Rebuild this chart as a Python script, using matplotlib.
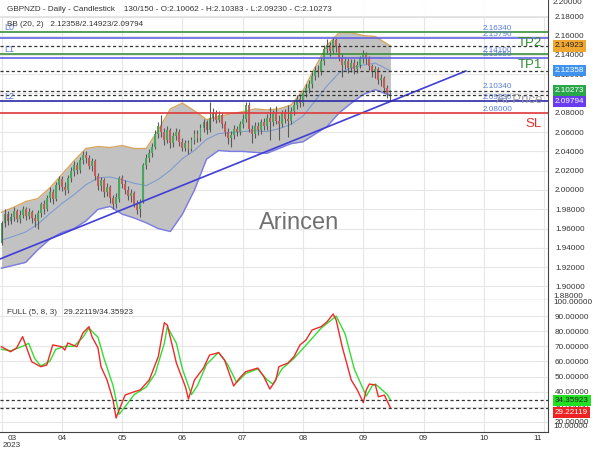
import matplotlib
matplotlib.use('Agg')
import matplotlib.pyplot as plt
import numpy as np

plt.rcParams['font.family'] = ['Liberation Sans', 'DejaVu Sans']

# ---------------- data ----------------
opens = [1.945, 1.966, 1.975, 1.968, 1.972, 1.978, 1.970, 1.974, 1.980, 1.973,
         1.977, 1.971, 1.968, 1.976, 1.985, 1.980, 1.992, 1.998, 1.991, 2.005,
         2.011, 2.003, 2.000, 2.012, 2.020, 2.026, 2.021, 2.031, 2.036, 2.033,
         2.025, 2.030, 2.015, 2.004, 2.010, 1.998, 2.003, 1.992, 1.985, 1.991,
         2.012, 2.006, 2.000, 1.994, 1.997, 1.986, 1.980, 1.989, 2.026, 2.033,
         2.038, 2.045, 2.058, 2.066, 2.060, 2.052, 2.062, 2.049, 2.056, 2.060,
         2.050, 2.044, 2.049, 2.043, 2.052, 2.058, 2.054, 2.064, 2.070, 2.062,
         2.075, 2.080, 2.073, 2.078, 2.068, 2.060, 2.054, 2.057, 2.063, 2.060,
         2.068, 2.074, 2.088, 2.063, 2.058, 2.066, 2.062, 2.070, 2.066, 2.075,
         2.070, 2.079, 2.072, 2.068, 2.080, 2.074, 2.071, 2.082, 2.088, 2.094,
         2.090, 2.100, 2.106, 2.110, 2.118, 2.124, 2.122, 2.134, 2.146, 2.150,
         2.144, 2.155, 2.149, 2.138, 2.130, 2.134, 2.126, 2.132, 2.125, 2.130,
         2.136, 2.140, 2.136, 2.128, 2.122, 2.125, 2.114, 2.116, 2.106, 2.10062]
highs = [1.968, 1.980, 1.978, 1.976, 1.982, 1.980, 1.979, 1.983, 1.982, 1.981,
         1.979, 1.975, 1.979, 1.988, 1.990, 1.995, 2.003, 2.001, 2.008, 2.014,
         2.015, 2.008, 2.016, 2.024, 2.030, 2.029, 2.034, 2.040, 2.040, 2.036,
         2.033, 2.032, 2.018, 2.013, 2.012, 2.007, 2.005, 1.995, 1.997, 2.015,
         2.016, 2.010, 2.004, 2.001, 1.999, 1.990, 1.991, 2.028, 2.037, 2.042,
         2.049, 2.062, 2.070, 2.078, 2.064, 2.066, 2.064, 2.060, 2.064, 2.063,
         2.054, 2.052, 2.052, 2.055, 2.062, 2.062, 2.068, 2.074, 2.073, 2.091,
         2.085, 2.083, 2.082, 2.080, 2.071, 2.064, 2.061, 2.067, 2.066, 2.071,
         2.079, 2.091, 2.091, 2.067, 2.070, 2.070, 2.074, 2.075, 2.079, 2.086,
         2.083, 2.087, 2.078, 2.083, 2.084, 2.088, 2.086, 2.092, 2.098, 2.099,
         2.104, 2.110, 2.114, 2.122, 2.128, 2.130, 2.138, 2.150, 2.156, 2.153,
         2.159, 2.157, 2.152, 2.141, 2.138, 2.137, 2.136, 2.136, 2.134, 2.139,
         2.145, 2.143, 2.139, 2.131, 2.129, 2.127, 2.120, 2.118, 2.109, 2.10383]
lows = [1.943, 1.962, 1.964, 1.965, 1.968, 1.967, 1.966, 1.971, 1.969, 1.970,
        1.966, 1.962, 1.960, 1.972, 1.975, 1.978, 1.988, 1.986, 1.989, 2.000,
        1.999, 1.995, 1.997, 2.008, 2.015, 2.017, 2.018, 2.027, 2.028, 2.022,
        2.020, 2.010, 2.000, 1.999, 1.993, 1.994, 1.987, 1.980, 1.981, 1.988,
        2.002, 1.996, 1.990, 1.988, 1.982, 1.975, 1.972, 1.987, 2.022, 2.029,
        2.034, 2.042, 2.054, 2.055, 2.047, 2.049, 2.044, 2.045, 2.052, 2.046,
        2.040, 2.040, 2.037, 2.040, 2.048, 2.050, 2.051, 2.060, 2.058, 2.060,
        2.071, 2.069, 2.070, 2.064, 2.056, 2.048, 2.045, 2.053, 2.056, 2.057,
        2.064, 2.070, 2.060, 2.049, 2.054, 2.057, 2.058, 2.062, 2.062, 2.052,
        2.066, 2.068, 2.052, 2.065, 2.069, 2.055, 2.068, 2.078, 2.084, 2.086,
        2.087, 2.096, 2.101, 2.106, 2.114, 2.117, 2.119, 2.130, 2.141, 2.139,
        2.141, 2.143, 2.134, 2.117, 2.125, 2.121, 2.122, 2.120, 2.121, 2.126,
        2.132, 2.131, 2.124, 2.117, 2.116, 2.110, 2.108, 2.101, 2.095, 2.09230]
closes = [1.966, 1.975, 1.968, 1.972, 1.978, 1.970, 1.974, 1.980, 1.973, 1.977,
          1.971, 1.968, 1.976, 1.985, 1.980, 1.992, 1.998, 1.991, 2.005, 2.011,
          2.003, 2.000, 2.012, 2.020, 2.026, 2.021, 2.031, 2.036, 2.033, 2.025,
          2.030, 2.015, 2.004, 2.010, 1.998, 2.003, 1.992, 1.985, 1.993, 2.012,
          2.006, 2.000, 1.994, 1.997, 1.986, 1.979, 1.988, 2.026, 2.033, 2.038,
          2.045, 2.058, 2.066, 2.060, 2.052, 2.062, 2.049, 2.056, 2.060, 2.050,
          2.044, 2.049, 2.043, 2.052, 2.058, 2.054, 2.064, 2.070, 2.062, 2.075,
          2.080, 2.073, 2.078, 2.068, 2.060, 2.054, 2.057, 2.063, 2.060, 2.068,
          2.074, 2.088, 2.063, 2.058, 2.066, 2.062, 2.070, 2.066, 2.075, 2.070,
          2.079, 2.072, 2.068, 2.080, 2.074, 2.071, 2.082, 2.088, 2.094, 2.090,
          2.100, 2.106, 2.110, 2.118, 2.124, 2.122, 2.134, 2.146, 2.150, 2.144,
          2.155, 2.149, 2.138, 2.130, 2.134, 2.126, 2.132, 2.125, 2.130, 2.136,
          2.140, 2.136, 2.128, 2.122, 2.125, 2.114, 2.116, 2.106, 2.100, 2.10273]

# Bollinger bands (20, 2), read at every 4th bar
bb_idx = [0, 4, 8, 12, 16, 20, 24, 28, 32, 36, 40, 44, 48, 52, 56, 60, 64, 68,
          72, 76, 80, 84, 88, 92, 96, 100, 104, 108, 112, 116, 120, 124, 129]
bb_upper = [1.977, 1.982, 1.988, 1.991, 2.002, 2.016, 2.030, 2.043, 2.045, 2.044,
            2.046, 2.043, 2.043, 2.062, 2.084, 2.090, 2.082, 2.073, 2.076, 2.079,
            2.081, 2.084, 2.083, 2.084, 2.088, 2.103, 2.127, 2.150, 2.163, 2.163,
            2.160, 2.159, 2.14923]
bb_mid = [1.948, 1.952, 1.9565, 1.9645, 1.9755, 1.986, 1.995, 2.0055, 2.0125,
          2.0135, 2.0105, 2.007, 2.0045, 2.011, 2.0205, 2.0325, 2.041, 2.0525,
          2.0585, 2.0595, 2.0605, 2.0615, 2.0605, 2.0635, 2.068, 2.0765, 2.0925,
          2.108, 2.1215, 2.1265, 2.1295, 2.1315, 2.12358]
bb_lower = [1.919, 1.922, 1.925, 1.938, 1.949, 1.956, 1.960, 1.968, 1.980, 1.983,
            1.975, 1.971, 1.966, 1.960, 1.957, 1.975, 2.000, 2.032, 2.041, 2.040,
            2.040, 2.039, 2.038, 2.043, 2.048, 2.050, 2.058, 2.066, 2.080, 2.090,
            2.099, 2.104, 2.09794]

# trend line (bar index, price)
trend_idx = [-0.5, 154.0]
trend_price = [1.9285, 2.1233]

# price levels
tp_levels = [2.16340, 2.14100]
entry_levels = [2.15790, 2.13650]
at_price = 2.09230
other_level = 2.10340
sl_level = 2.08000
bb_now = [2.14923, 2.12358, 2.09794]
last_close = 2.10273

# Stochastic full (5, 8, 3)
k_idx = [0, 3, 5, 7, 8, 10, 13, 15, 17, 20, 21, 22, 25, 27, 29, 30, 32, 33, 35, 37,
         38, 39, 41, 44, 46, 49, 52, 54, 55, 57, 58, 61, 62, 64, 67, 69, 72, 74, 77,
         79, 81, 85, 87, 89, 91, 92, 95, 97, 99, 101, 103, 106, 108, 110, 111, 113,
         116, 118, 120, 121, 122, 124, 125, 127, 129]
k_vals = [69.7, 66.4, 68.9, 76.4, 70.9, 59.8, 56.5, 57.6, 70.9, 69.7, 67.5, 72.2,
          69.7, 78.8, 83.0, 76.4, 68.9, 56.5, 47.7, 34.4, 22.5, 27.8, 37.7, 39.9,
          41.1, 47.7, 63.1, 85.6, 84.1, 67.5, 58.9, 43.2, 35.1, 47.7, 55.6, 64.2,
          65.8, 60.9, 43.7, 49.0, 53.2, 55.6, 49.9, 41.7, 47.7, 56.5, 58.9, 63.1,
          70.9, 74.2, 80.8, 83.0, 86.3, 91.4, 87.4, 69.7, 47.7, 41.1, 32.7, 41.1,
          45.0, 44.4, 36.6, 37.7, 29.22119]
d_idx = [0, 3, 7, 9, 11, 13, 16, 18, 21, 24, 27, 29, 32, 34, 37, 39, 41, 44, 48,
         51, 54, 55, 58, 60, 63, 65, 68, 72, 75, 78, 81, 85, 88, 90, 93, 97, 102,
         106, 111, 114, 117, 121, 123, 124, 128, 129]
d_vals = [68, 67, 70, 72, 62, 57, 60, 68, 70, 70, 76, 82, 76, 62, 44, 25, 30, 38,
          43, 52, 72, 83, 72, 55, 38, 44, 58, 66, 58, 46, 52, 55, 48, 45, 55, 62,
          73, 82, 90, 78, 55, 37, 44, 45, 38, 34.35923]

tick_idx = [0, 20, 40, 60, 80, 100, 120, 140, 160, 180]
tick_labels = ['03\n2023', '04', '05', '06', '07', '08', '09', '09', '10', '11']

# ---------------- figure ----------------
fig = plt.figure(figsize=(6, 4.5), dpi=100)
ax = fig.add_axes([0, 1 - 300 / 450, 548 / 600, 300 / 450])
ax2 = fig.add_axes([0, 1 - 432 / 450, 548 / 600, 132 / 450])

XMIN, XMAX = -0.5, 181.26
TXT = '#333333'
GRID = '#e6e6e6'
FS = 5.9

for a in (ax, ax2):
    a.set_xlim(XMIN, XMAX)
    a.yaxis.tick_right()
    a.tick_params(axis='both', length=0, labelsize=FS, colors=TXT)
    a.grid(True, color=GRID, lw=0.8, zorder=0)
    a.set_axisbelow(True)
    for s in ('left', 'top'):
        a.spines[s].set_visible(False)
    a.spines['right'].set_color('#444444')
    a.spines['bottom'].set_color('#444444')
    a.set_xticks(tick_idx)

ax.set_xticklabels([])
ax2.set_xticklabels([''] * len(tick_labels))
# month labels (first and last are pushed inside the plot like in the source)
for t, lab in zip(tick_idx, tick_labels):
    xf = (t - XMIN) / (XMAX - XMIN)
    if t == tick_idx[0]:
        xf = 12 / 548
    if t == tick_idx[-1]:
        xf = 538 / 548
    ax2.text(xf, -3 / 132, lab, transform=ax2.transAxes, fontsize=FS, color=TXT,
             ha='center', va='top', linespacing=0.95, clip_on=False)

# ---- main panel ----
ax.set_ylim(1.88601, 2.19689)
yt = [round(1.90 + 0.02 * k, 2) for k in range(15)]
ax.set_yticks(yt)
ax.set_yticklabels(['%.5f' % v for v in yt])
ax.tick_params(axis='y', pad=5)

# Bollinger
ax.fill_between(bb_idx, bb_lower, bb_upper, color='#c2c2c2', zorder=1, lw=0)
ax.plot(bb_idx, bb_upper, color='#d6a55e', lw=1.0, zorder=2)
ax.plot(bb_idx, bb_lower, color='#7b7be6', lw=1.0, zorder=2)
ax.plot(bb_idx, bb_mid, color='#7f9cd0', lw=0.8, zorder=2)

# candles
n = len(closes)
idx = list(range(n))
up = [c >= o for o, c in zip(opens, closes)]
colors = ['#45a85a' if u else '#c95a5a' for u in up]
ax.vlines(idx, lows, highs, color='#5a5a5a', lw=0.8, zorder=3)
bottoms = [min(o, c) for o, c in zip(opens, closes)]
heights = [max(abs(c - o), 0.0005) for o, c in zip(opens, closes)]
ax.bar(idx, heights, bottom=bottoms, width=0.62, color=colors, zorder=4, lw=0)

# trend line
ax.plot(trend_idx, trend_price, color='#3f3fd8', lw=1.2, zorder=5)

# level lines
for v in tp_levels:
    ax.axhline(v, color='#3a8f3a', lw=1.2, zorder=5)
for v in entry_levels:
    ax.axhline(v, color='#6262e6', lw=1.2, zorder=5)
ax.axhline(at_price, color='#2a2aa8', lw=1.2, zorder=5)
ax.axhline(sl_level, color='#e03a3a', lw=1.2, zorder=5)
for v in bb_now + [last_close]:
    ax.axhline(v, color='#333333', lw=0.9, ls=(0, (2.5, 2)), zorder=5)

# level value labels
lvl_col = '#5a7ddc'
for v in [tp_levels[0], entry_levels[0], tp_levels[1], entry_levels[1],
          other_level, at_price, sl_level]:
    ax.annotate('%.5f' % v, xy=(483 / 548, v), xycoords=('axes fraction', 'data'),
                ha='left', va='bottom', fontsize=FS, color=lvl_col, zorder=6)

for lab, v in [('L0', tp_levels[0]), ('L1', tp_levels[1]), ('L2', at_price)]:
    ax.annotate(lab, xy=(4 / 548, v), xycoords=('axes fraction', 'data'),
                ha='left', va='bottom', fontsize=6.5, color=lvl_col, zorder=6)

for lab, v, col in [('TP2', tp_levels[0], '#2f8f2f'), ('TP1', tp_levels[1], '#2f8f2f'),
                    ('SL', sl_level, '#e03030')]:
    ax.annotate(lab, xy=(542 / 548, v), xycoords=('axes fraction', 'data'),
                xytext=(0, -8), textcoords='offset points',
                ha='right', va='center', fontsize=9.5, color=col, zorder=6)
ax.annotate('At Price', xy=(542 / 548, at_price), xycoords=('axes fraction', 'data'),
            xytext=(0, 0.5), textcoords='offset points',
            ha='right', va='center', fontsize=9.5, color='#9a9a9a', alpha=0.9, zorder=6)

# watermark
ax.text(299 / 548, 77 / 300, 'Arincen', transform=ax.transAxes, fontsize=17,
        color='#707070', ha='center', va='center', zorder=2)

# header band
ax.add_patch(plt.Rectangle((0, 1 - 16 / 300), 1, 16 / 300, transform=ax.transAxes,
                           facecolor='white', edgecolor='none', alpha=0.95, zorder=7))
ax.axhline(2.19689 - 16.5 / 965, color='#e0e0e0', lw=0.8, zorder=7)
ax.text(7 / 548, 1 - 9.5 / 300,
        'GBPNZD - Daily - Candlestick    130/150 - O:2.10062 - H:2.10383 - L:2.09230 - C:2.10273',
        transform=ax.transAxes, fontsize=FS, color=TXT, ha='left', va='center', zorder=8)
ax.text(7 / 548, 1 - 25 / 300, 'BB (20, 2)   2.12358/2.14923/2.09794',
        transform=ax.transAxes, fontsize=FS, color=TXT, ha='left', va='center', zorder=8)

# clamped edge labels
ax.text(1 + 5 / 548, 1 - 3 / 300, '2.20000', transform=ax.transAxes, fontsize=FS,
        color=TXT, ha='left', va='center', clip_on=False)
ax.text(1 + 5 / 548, 4 / 300, '1.88000', transform=ax.transAxes, fontsize=FS,
        color=TXT, ha='left', va='center', clip_on=False)


def tag(axis, value, text, fc, tc, dy=0):
    axis.annotate(text, xy=(1, value), xycoords=('axes fraction', 'data'),
                  xytext=(5, dy), textcoords='offset points', ha='left', va='center',
                  fontsize=FS, color=tc, annotation_clip=False, zorder=10,
                  bbox=dict(boxstyle='square,pad=0.25', fc=fc, ec='none'))


tag(ax, bb_now[0], '%.5f' % bb_now[0], '#f0a830', '#222222')
tag(ax, bb_now[1], '%.5f' % bb_now[1], '#3f93ee', 'white')
tag(ax, last_close, '%.5f' % last_close, '#2aa64a', 'white')
tag(ax, bb_now[2], '%.5f' % bb_now[2], '#6a3cf0', 'white', dy=-4.3)

# ---- stochastic panel ----
ax2.set_ylim(13.25, 100.66)
st = [20, 30, 40, 50, 60, 70, 80, 90]
ax2.set_yticks(st)
ax2.set_yticklabels(['%.5f' % v for v in st])
ax2.tick_params(axis='y', pad=5)
ax2.plot(d_idx, d_vals, color='#33dd33', lw=1.0, zorder=3)
ax2.plot(k_idx, k_vals, color='#ee2a2a', lw=1.0, zorder=4)
ax2.axhline(d_vals[-1], color='#333333', lw=0.9, ls=(0, (2.5, 2)), zorder=5)
ax2.axhline(k_vals[-1], color='#333333', lw=0.9, ls=(0, (2.5, 2)), zorder=5)
ax2.text(7 / 548, 1 - 12 / 132, 'FULL (5, 8, 3)   29.22119/34.35923',
         transform=ax2.transAxes, fontsize=FS, color=TXT, ha='left', va='center')
ax2.text(1 + 5 / 548, 1 - 3 / 132, '100.00000', transform=ax2.transAxes, fontsize=FS,
         color=TXT, ha='left', va='center', clip_on=False)
ax2.text(1 + 5 / 548, 5 / 132, '10.00000', transform=ax2.transAxes, fontsize=FS,
         color=TXT, ha='left', va='center', clip_on=False)
tag(ax2, d_vals[-1], '%.5f' % d_vals[-1], '#22e022', '#222222')
tag(ax2, k_vals[-1], '%.5f' % k_vals[-1], '#ee2222', 'white', dy=-3.5)

fig.savefig('out.png', dpi=100)
